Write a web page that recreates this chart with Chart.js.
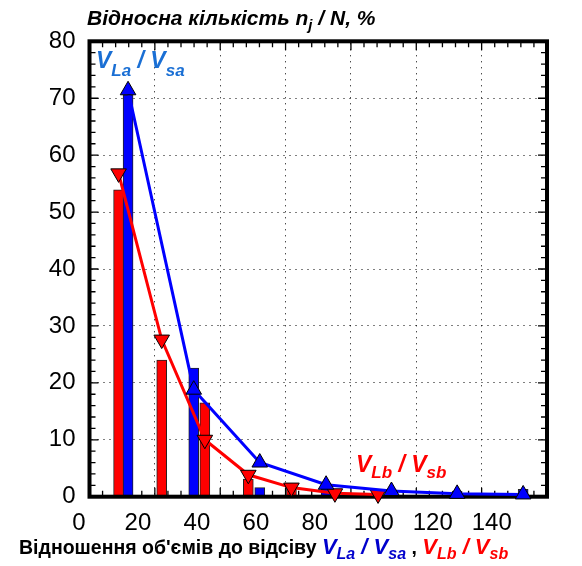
<!DOCTYPE html>
<html>
<head>
<meta charset="utf-8">
<script src="https://cdn.jsdelivr.net/npm/chart.js"></script>
<style>
body{margin:0;background:#fff;}
canvas{display:block;}
</style>
</head>
<body>
<canvas id="myChart" width="582" height="566"></canvas>
<script>
// data
var xTickLabels = [0, 20, 40, 60, 80, 100, 120, 140];
var blueX = [11.8, 31.9, 52.1, 72.4, 92.4, 112.5, 132.7];
var blueBars = [70.6, 22.6, 1.6, 2.0, 1.2, 1.0, 1.3];
var blueLine = [71.4, 18.8, 6.0, 2.1, 1.0, 0.5, 0.4];
var redX = [8.9, 22.1, 35.3, 48.6, 61.8, 75.1, 88.3];
var redBars = [53.9, 24.0, 16.5, 3.1, 2.35, 0.5, 0.3];
var redLine = [56.8, 27.6, 10.0, 3.85, 1.6, 0.6, 0.4];

var FONT = "'Liberation Sans', Arial, sans-serif";

function pts(xs, ys){
    return xs.map(function(x, i){ return {x: x, y: ys[i]}; });
}

function drawParts(ctx, x, y, parts){
    parts.forEach(function(p){
        ctx.font = p.font;
        ctx.fillStyle = p.color;
        ctx.fillText(p.text, x, y + (p.dy || 0));
        x += ctx.measureText(p.text).width;
    });
}

//frame, grid and ticks
var framePlugin = {
    id: 'frame',
    beforeDatasetsDraw: function(chart){
        var ctx = chart.ctx, a = chart.chartArea;
        var xs = chart.scales.x, ys = chart.scales.y;
        this.done = false;
        ctx.save();
        ctx.strokeStyle = '#000';
        ctx.lineWidth = 1;
        ctx.setLineDash([1, 5]);
        for (var v = 20; v < 140; v += 20){
            var px = Math.floor(xs.getPixelForValue(v)) + 0.5;
            ctx.beginPath(); ctx.moveTo(px, a.top + 2); ctx.lineTo(px, a.bottom); ctx.stroke();
        }
        for (var w = 10; w < 80; w += 10){
            var py = Math.floor(ys.getPixelForValue(w)) + 0.5;
            ctx.beginPath(); ctx.moveTo(a.left + 2, py); ctx.lineTo(a.right, py); ctx.stroke();
        }
        ctx.setLineDash([]);
        ctx.lineWidth = 1.3;
        for (var t = 4; t < 140; t += 4){
            var tx = xs.getPixelForValue(t), len = (t % 20 === 0) ? 9 : 6;
            ctx.beginPath();
            ctx.moveTo(tx, a.bottom); ctx.lineTo(tx, a.bottom - len);
            ctx.moveTo(tx, a.top); ctx.lineTo(tx, a.top + len);
            ctx.stroke();
        }
        for (var s = 2; s < 80; s += 2){
            var ty = ys.getPixelForValue(s), l2 = (s % 10 === 0) ? 9 : 6;
            ctx.beginPath();
            ctx.moveTo(a.left, ty); ctx.lineTo(a.left + l2, ty);
            ctx.moveTo(a.right, ty); ctx.lineTo(a.right - l2, ty);
            ctx.stroke();
        }
        ctx.restore();
    },
    beforeDatasetDraw: function(chart, args){
        if (this.done || args.meta.type !== 'line') return;
        this.done = true;
        var ctx = chart.ctx, a = chart.chartArea;
        ctx.save();
        ctx.strokeStyle = '#000';
        ctx.lineWidth = 4;
        ctx.strokeRect(a.left, a.top, a.right - a.left, a.bottom - a.top);
        ctx.restore();
    },
    afterDraw: function(chart){
        var ctx = chart.ctx;
        ctx.save();
        ctx.textBaseline = 'alphabetic';
        var bi = 'italic bold 21px ' + FONT, bis = 'italic bold 15px ' + FONT;
        drawParts(ctx, 87, 25, [
            {text: 'Відносна кількість n', font: bi, color: '#000'},
            {text: 'j', font: bis, color: '#000', dy: 5},
            {text: ' / N, %', font: bi, color: '#000'}
        ]);
        var lb = '#1a6fd4', big = 'italic bold 23px ' + FONT, sub = 'italic bold 17px ' + FONT;
        drawParts(ctx, 96, 68, [
            {text: 'V', font: big, color: lb},
            {text: 'La', font: sub, color: lb, dy: 8},
            {text: ' / V', font: big, color: lb},
            {text: 'sa', font: sub, color: lb, dy: 8}
        ]);
        var rd = '#ff0000';
        drawParts(ctx, 356, 472, [
            {text: 'V', font: big, color: rd},
            {text: 'Lb', font: sub, color: rd, dy: 6},
            {text: ' / V', font: big, color: rd},
            {text: 'sb', font: sub, color: rd, dy: 6}
        ]);
        var b = 'bold 19.5px ' + FONT, vb = 'italic bold 22px ' + FONT, vs = 'italic bold 16px ' + FONT;
        var bl = '#0000cc';
        drawParts(ctx, 19, 554, [
            {text: "Відношення об'ємів до відсіву ", font: b, color: '#000'},
            {text: 'V', font: vb, color: bl},
            {text: 'La', font: vs, color: bl, dy: 5},
            {text: ' / V', font: vb, color: bl},
            {text: 'sa', font: vs, color: bl, dy: 5},
            {text: ' , ', font: b, color: '#000'},
            {text: 'V', font: vb, color: rd},
            {text: 'Lb', font: vs, color: rd, dy: 5},
            {text: ' / V', font: vb, color: rd},
            {text: 'sb', font: vs, color: rd, dy: 5}
        ]);
        ctx.restore();
    }
};

var ctx = document.getElementById('myChart');
var chart = new Chart(ctx, {
    type: 'line',
    data: {
        datasets: [{
            label: 'VLa/Vsa',
            data: pts(blueX, blueLine),
            borderColor: '#0000ff',
            borderWidth: 3,
            pointStyle: 'triangle',
            pointRadius: 9,
            pointBackgroundColor: '#0000ff',
            pointBorderColor: '#000',
            pointBorderWidth: 1,
            tension: 0,
            clip: false,
            order: 0
        }, {
            label: 'VLb/Vsb',
            data: pts(redX, redLine),
            borderColor: '#ff0000',
            borderWidth: 3,
            pointStyle: 'triangle',
            pointRotation: 180,
            pointRadius: 9,
            pointBackgroundColor: '#ff0000',
            pointBorderColor: '#000',
            pointBorderWidth: 1,
            tension: 0,
            clip: false,
            order: 0
        }, {
            type: 'bar',
            label: 'bars a',
            data: pts(blueX, blueBars),
            backgroundColor: '#0000ff',
            borderColor: '#222',
            borderWidth: 1,
            barThickness: 10,
            grouped: false,
            order: 1
        }, {
            type: 'bar',
            label: 'bars b',
            data: pts(redX, redBars),
            backgroundColor: '#ff0000',
            borderColor: '#222',
            borderWidth: 1,
            barThickness: 10,
            grouped: false,
            order: 1
        }]
    },
    options: {
        responsive: false,
        animation: false,
        layout: {padding: {top: 41.3, right: 35, left: 0, bottom: 0}},
        plugins: {legend: {display: false}, tooltip: {enabled: false}},
        scales: {
            x: {
                type: 'linear', display: false, min: 0, max: 140, offset: false
            },
            xl: {
                type: 'linear', position: 'bottom', axis: 'x',
                min: 3.56, max: 158.75,
                grid: {display: false}, border: {display: false},
                afterBuildTicks: function(s){
                    s.ticks = xTickLabels.map(function(v){ return {value: v}; });
                },
                afterFit: function(s){ s.height = 69.3; },
                ticks: {
                    autoSkip: false, maxRotation: 0, padding: 4,
                    color: '#000', font: {family: FONT, size: 24}
                }
            },
            y: {
                type: 'linear', min: 0, max: 80,
                grid: {display: false, drawTicks: false}, border: {display: false},
                afterFit: function(s){ s.width = 89.5; },
                ticks: {
                    stepSize: 10, padding: 14,
                    color: '#000', font: {family: FONT, size: 24}
                }
            }
        }
    },
    plugins: [framePlugin]
});
</script>
</body>
</html>
